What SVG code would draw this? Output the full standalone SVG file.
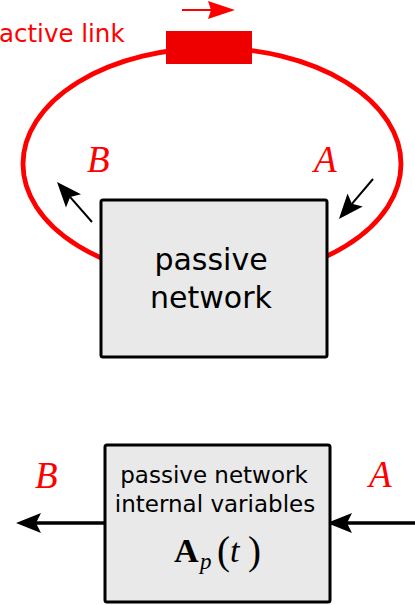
<svg xmlns="http://www.w3.org/2000/svg" width="415" height="605" viewBox="0 0 415 605">
<style>
.box{fill:#e9e9e9;stroke:#000;stroke-width:3}
.lbl{font-family:"DejaVu Sans",sans-serif;fill:#000;text-anchor:middle}
.var{font-family:"Liberation Serif",serif;font-style:italic;fill:#f00;font-size:37px}
.math{font-family:"Liberation Serif",serif;fill:#000}
.arr{stroke:#000;fill:none}
</style>
<defs>
<marker id="ah" markerUnits="userSpaceOnUse" viewBox="-1 -11 27 22" markerWidth="27" markerHeight="22" refX="5" refY="0" orient="auto">
<path d="M25,0 L0,-10 L5,0 L0,10 z" fill="#000"/>
</marker>
</defs>
<g id="connectors">
<ellipse cx="212" cy="164" rx="189" ry="116" fill="none" stroke="#f00" stroke-width="4.8"/>
<line class="arr" x1="92" y1="222" x2="70.2" y2="197.1" stroke-width="2" marker-end="url(#ah)"/>
<line class="arr" x1="373" y1="179" x2="351.9" y2="203.8" stroke-width="2" marker-end="url(#ah)"/>
<line class="arr" x1="105" y1="523" x2="36" y2="523" stroke-width="3.5" marker-end="url(#ah)"/>
<line class="arr" x1="415" y1="523" x2="347" y2="523" stroke-width="3.5" marker-end="url(#ah)"/>
<line x1="182" y1="10" x2="212" y2="10" stroke="#f00" stroke-width="2"/>
<path d="M235,10 L208,1 L211,10 L208,19 z" fill="#f00"/>
</g>
<g id="active-link">
<rect x="166" y="31" width="86" height="33" fill="#ee0000"/>
<text x="-1" y="42" font-family="DejaVu Sans, sans-serif" font-size="24.5" fill="#f00">active link</text>
</g>
<g id="passive-network">
<rect class="box" x="101" y="200" width="226" height="157" rx="2"/>
<text class="lbl" x="211" y="270" font-size="30">passive</text>
<text class="lbl" x="211" y="308" font-size="30">network</text>
</g>
<g id="labels-top">
<text class="var" x="87" y="172">B</text>
<text class="var" x="314" y="172">A</text>
</g>
<g id="internal-variables">
<rect class="box" x="105" y="445" width="225" height="157" rx="2"/>
<text class="lbl" x="214" y="483" font-size="23">passive network</text>
<text class="lbl" x="215" y="512" font-size="23">internal variables</text>
<text class="math" x="174" y="562" font-size="34"><tspan font-weight="bold">A</tspan><tspan x="200" dy="7" font-size="23" font-style="italic">p</tspan><tspan x="217" dy="-5" font-size="39">(</tspan><tspan x="230" dy="-2" font-style="italic">t</tspan><tspan x="248" dy="2" font-size="39">)</tspan></text>
</g>
<g id="labels-bottom">
<text class="var" x="35" y="488">B</text>
<text class="var" x="369" y="487">A</text>
</g>
</svg>
